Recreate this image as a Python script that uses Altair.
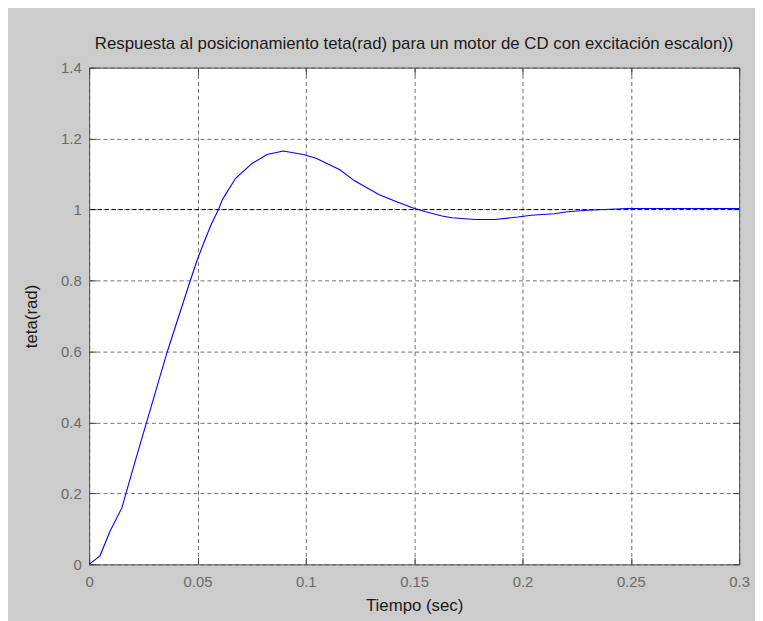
import altair as alt
import pandas as pd

# Step response values
t_vals = [0.0, 0.0050, 0.0097, 0.0151, 0.0170, 0.0217, 0.0265, 0.0313, 0.0361, 0.0414,
          0.0467, 0.0497, 0.0530, 0.0565, 0.0597, 0.0615, 0.0676, 0.0752, 0.0821, 0.0896,
          0.0988, 0.1050, 0.1157, 0.1225, 0.1339, 0.1416, 0.1492, 0.1553, 0.1629, 0.1674,
          0.1781, 0.1872, 0.1979, 0.2040, 0.2146, 0.2207, 0.2298, 0.2405, 0.2481, 0.3000]
teta_vals = [0.000, 0.024, 0.094, 0.159, 0.200, 0.300, 0.400, 0.500, 0.600, 0.700,
             0.800, 0.855, 0.908, 0.960, 1.000, 1.028, 1.088, 1.130, 1.155, 1.165,
             1.155, 1.144, 1.112, 1.081, 1.042, 1.023, 1.005, 0.994, 0.982, 0.977,
             0.972, 0.972, 0.979, 0.984, 0.988, 0.994, 0.998, 1.001, 1.003, 1.003]
ref_level = [1.0]
x_ticks = [0, 0.05, 0.1, 0.15, 0.2, 0.25, 0.3]
y_ticks = [0, 0.2, 0.4, 0.6, 0.8, 1.0, 1.2, 1.4]

title_text = "Respuesta al posicionamiento teta(rad) para un motor de CD con excitación escalon))"
x_title = "Tiempo (sec)"
y_title = "teta(rad)"

df = pd.DataFrame({"t": t_vals, "teta": teta_vals})
ref_df = pd.DataFrame({"level": ref_level})

FONT = "Liberation Sans"
xs = alt.Scale(domain=[0, 0.3], nice=False, zero=False)
ys = alt.Scale(domain=[0, 1.4], nice=False, zero=False)
inward = {"expr": "-7"}

x_bottom = alt.Axis(values=x_ticks, format="~g", orient="bottom", title=x_title,
                    grid=True, tickSize=inward, labelPadding=17, titlePadding=9,
                    labelFlush=False)
y_left = alt.Axis(values=y_ticks, format="~g", orient="left", title=y_title,
                  grid=True, tickSize=inward, labelPadding=15, titlePadding=20,
                  labelFlush=False)
x_top = alt.Axis(values=x_ticks, orient="top", title=None, labels=False,
                 grid=False, tickSize=inward)
y_right = alt.Axis(values=y_ticks, orient="right", title=None, labels=False,
                   grid=False, tickSize=inward)

frame = alt.Chart(df).mark_line(opacity=0).encode(
    x=alt.X("t:Q", scale=xs, axis=x_bottom),
    y=alt.Y("teta:Q", scale=ys, axis=y_left),
)
frame2 = alt.Chart(df).mark_line(opacity=0).encode(
    x=alt.X("t:Q", scale=xs, axis=x_top),
    y=alt.Y("teta:Q", scale=ys, axis=y_right),
)
ref = alt.Chart(ref_df).mark_rule(color="#000000", strokeDash=[4, 3], strokeWidth=1).encode(
    y=alt.Y("level:Q", scale=ys, axis=None),
)
curve = alt.Chart(df).mark_line(color="#0000ff", strokeWidth=1.1).encode(
    x=alt.X("t:Q", scale=xs, axis=None),
    y=alt.Y("teta:Q", scale=ys, axis=None),
)

chart = alt.layer(frame, frame2, ref, curve).resolve_axis(
    x="independent", y="independent"
).properties(
    width=657,
    height=502,
    autosize=alt.AutoSizeParams(type="none"),
    padding={"left": 82, "top": 57, "right": 16, "bottom": 54},
    background="#cccccc",
    title=alt.TitleParams(title_text, anchor="middle", frame="group", offset=0, dy=5,
                          baseline="alphabetic", fontSize=17, font=FONT,
                          fontWeight="normal", color="#1a1a1a"),
).configure_view(
    fill="#ffffff", stroke="#555555", strokeWidth=1
).configure_axis(
    domain=False,
    gridColor="#555555",
    gridDash=[4, 3],
    gridOpacity=0.85,
    gridWidth=1,
    tickColor="#444444",
    tickWidth=1,
    labelFont=FONT,
    labelFontSize=15,
    labelColor="#6a6a6a",
    titleFont=FONT,
    titleFontSize=17,
    titleFontWeight="normal",
    titleColor="#1a1a1a",
)

chart.save("out.html", embed_options={"renderer": "svg", "actions": False})
